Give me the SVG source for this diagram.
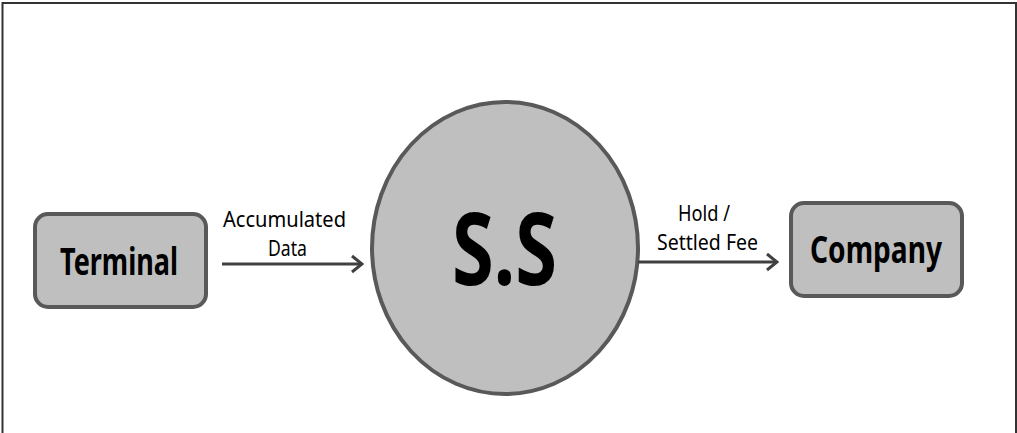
<svg xmlns="http://www.w3.org/2000/svg" width="1017" height="433" viewBox="0 0 1017 433">
<defs>
<style>
.node{fill:#bfbfbf;stroke:#595959;stroke-width:4}
.lbl{font-family:"Noto Sans","Liberation Sans",sans-serif;font-weight:bold;fill:#000;text-anchor:middle}
.edge{font-family:"Noto Sans","Liberation Sans",sans-serif;font-size:21px;fill:#000;text-anchor:middle}
.conn{stroke:#404040;stroke-width:3;fill:none}
</style>
<marker id="arr" markerWidth="14" markerHeight="20" refX="12" refY="10" orient="auto" markerUnits="userSpaceOnUse">
<path d="M2,2 L12,10 L2,18" fill="none" stroke="#404040" stroke-width="3"/>
</marker>
</defs>
<rect width="1017" height="433" fill="#fff"/>
<path d="M2.5,433 L2.5,3 L1016,3 L1016,433" fill="none" stroke="#333" stroke-width="2"/>
<g id="terminal">
<rect class="node" x="35" y="214" width="171" height="93" rx="13"/>
<text class="lbl" x="119" y="275" font-size="38" textLength="118" lengthAdjust="spacingAndGlyphs">Terminal</text>
</g>
<g id="ss">
<ellipse class="node" cx="505" cy="248" rx="133" ry="146"/>
<text class="lbl" x="504.5" y="285" font-size="100" textLength="105" lengthAdjust="spacingAndGlyphs">S.S</text>
</g>
<g id="company">
<rect class="node" x="791" y="203" width="171" height="93" rx="13"/>
<text class="lbl" x="876" y="263" font-size="37" textLength="132" lengthAdjust="spacingAndGlyphs">Company</text>
</g>
<g id="connectors">
<line class="conn" x1="222" y1="264" x2="362" y2="264" marker-end="url(#arr)"/>
<line class="conn" x1="638" y1="262" x2="777" y2="262" marker-end="url(#arr)"/>
<text class="edge" x="284.5" y="227" textLength="123" lengthAdjust="spacingAndGlyphs">Accumulated</text>
<text class="edge" x="287.5" y="256" textLength="39" lengthAdjust="spacingAndGlyphs">Data</text>
<text class="edge" x="704" y="221" textLength="52" lengthAdjust="spacingAndGlyphs">Hold /</text>
<text class="edge" x="707.5" y="250" textLength="101" lengthAdjust="spacingAndGlyphs">Settled Fee</text>
</g>
</svg>
